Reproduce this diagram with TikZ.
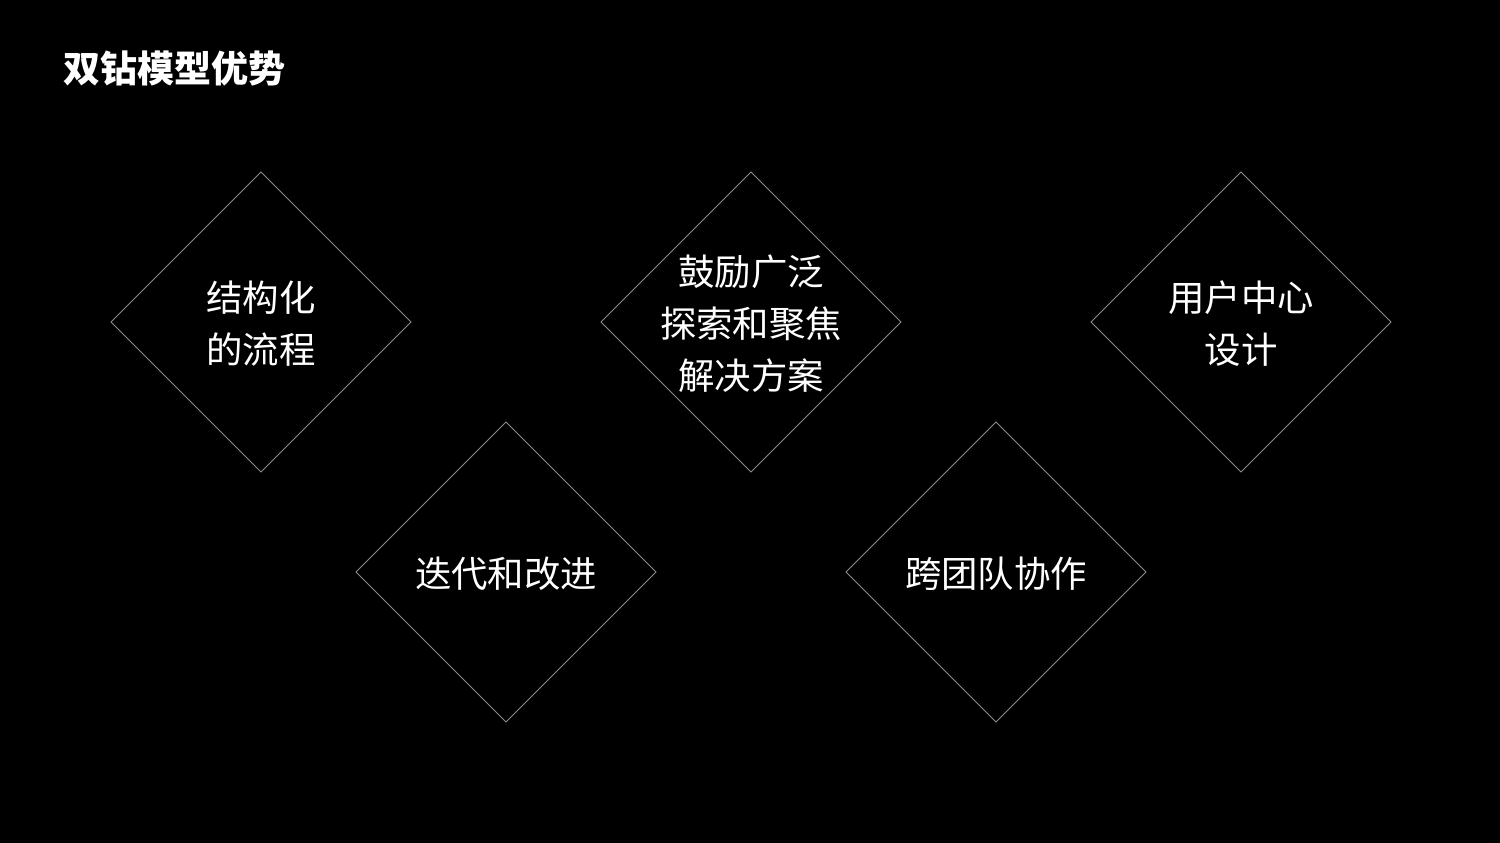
\documentclass[tikz,border=0pt]{standalone}
\usepackage{fontspec}
\setmainfont{Noto Sans CJK SC}
\usepackage{tikz}
\usetikzlibrary{shapes.geometric}

\begin{document}
\begin{tikzpicture}[x=1pt,y=-1pt,
    dia/.style={diamond,draw=gray!90,line width=0.9pt,minimum width=300pt,minimum height=300pt,
        inner sep=0pt,outer sep=0pt},
    txt/.style={align=center,text=white,inner sep=0pt,yshift=-2pt,
        font=\fontsize{36.4}{52}\selectfont},
    heading/.style={anchor=west,inner sep=0pt,text=white,font=\fontsize{37}{40}\selectfont\bfseries}]

    \fill[black] (0,0) rectangle (1500,843);

    \node[heading]   (title)  at (63, 68)    {双钻模型优势};

    \node[dia]       (structbox)  at (261, 322)  {};
    \node[dia]       (explorebox) at (751, 322)  {};
    \node[dia]       (userbox)    at (1241, 322) {};
    \node[dia]       (iterbox)    at (506, 572)  {};
    \node[dia]       (teambox)    at (996, 572)  {};

    \node[txt]       (struct)  at (structbox)  {结构化\\的流程};
    \node[txt]       (explore) at (explorebox) {鼓励广泛\\探索和聚焦\\解决方案};
    \node[txt]       (user)    at (userbox)    {用户中心\\设计};
    \node[txt]       (iter)    at (iterbox)    {迭代和改进};
    \node[txt]       (team)    at (teambox)    {跨团队协作};
  \end{tikzpicture}
\end{document}
